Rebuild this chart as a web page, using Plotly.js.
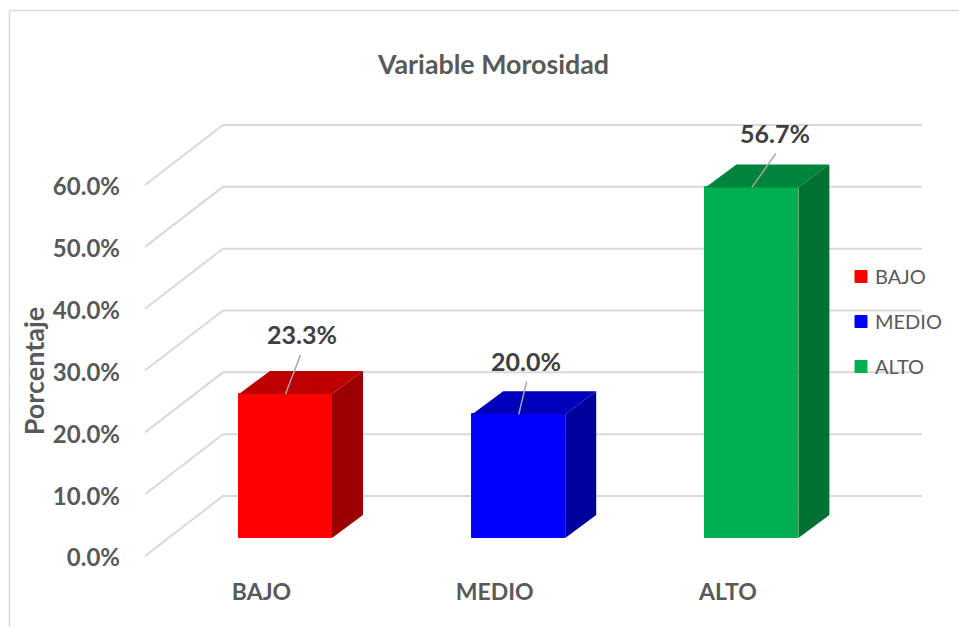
<!DOCTYPE html>
<html>
<head>
<meta charset="utf-8">
<script src="https://cdn.plot.ly/plotly-3.0.1.min.js"></script>
<style>html,body{margin:0;padding:0;background:#fff}#chart{width:959px;height:627px}</style>
</head>
<body>
<div id="chart"></div>
<script>
const categories = ["BAJO", "MEDIO", "ALTO"];
const values = [23.3, 20.0, 56.7];
const tickValues = [0, 10, 20, 30, 40, 50, 60];
const frontColors = ["#FF0000", "#0000FF", "#00B050"];
const topColors = ["#BC0000", "#0000BC", "#00843C"];
const sideColors = ["#9C0000", "#00009C", "#007033"];
const labelShiftX = [16, 7, 23];
const labelShiftY = [60, 53, 54];
const leaderDX = [15, 8, 24];
const leaderDY = [39, 33, 34];

const W = 959, H = 627;
const plot = {l: 125, r: 945, t: 115, b: 627};
const pxPerPct = 6.183, pxPerCat = 233.2;
const zeroPx = 556, tick0Px = 261.5;
const toCat = p => p / pxPerCat, toPct = p => p / pxPerPct;

const xRange = [(plot.l - tick0Px) / pxPerCat, (plot.r - tick0Px) / pxPerCat];
const yRange = [(zeroPx - plot.b) / pxPerPct, (zeroPx - plot.t) / pxPerPct];

const barOffset = toCat(24);     // bars sit right of the tick label
const barBase = toPct(18);       // front plane of the bars above the axis zero
const barWidth = toCat(93);
const depthX = toCat(31), depthY = toPct(23);
const wallX = toCat(78), wallY = toPct(60);
const sideStart = toCat(145 - tick0Px), gridEnd = toCat(922 - tick0Px);

const traces = [];
categories.forEach((c, i) => {
  const cx = i + barOffset, l = cx - barWidth / 2, r = cx + barWidth / 2;
  const top = barBase + values[i];
  traces.push({type: "bar", name: c, x: [cx], y: [values[i]], base: [barBase], width: [barWidth],
    marker: {color: frontColors[i], line: {color: frontColors[i], width: 1}},
    legendgroup: c, hoverinfo: "name+y"});
  traces.push({type: "scatter", mode: "lines", x: [l, l + depthX, r + depthX, r, l],
    y: [top, top + depthY, top + depthY, top, top], fill: "toself", fillcolor: topColors[i],
    line: {width: 0}, showlegend: false, hoverinfo: "skip"});
  traces.push({type: "scatter", mode: "lines", x: [r, r + depthX, r + depthX, r, r],
    y: [top, top + depthY, barBase + depthY, barBase, top], fill: "toself", fillcolor: sideColors[i],
    line: {width: 0}, showlegend: false, hoverinfo: "skip"});
  traces.push({type: "scatter", mode: "lines", x: [cx, cx + toCat(leaderDX[i])],
    y: [top, top + toPct(leaderDY[i])], line: {color: "#A6A6A6", width: 1.5},
    showlegend: false, hoverinfo: "skip"});
});

const gridShapes = [];
tickValues.forEach(t => {
  gridShapes.push({type: "path", layer: "below", xref: "x", yref: "y",
    path: `M${sideStart},${t} L${sideStart + wallX},${t + wallY} L${gridEnd},${t + wallY}`,
    line: {color: "#D9D9D9", width: 2}});
});
const fx = p => (p - plot.l) / (plot.r - plot.l);
const fy = p => (plot.b - p) / (plot.b - plot.t);
const frameShapes = [
  {type: "line", xref: "paper", yref: "paper", x0: fx(9.5), x1: fx(9.5), y0: fy(627), y1: fy(10.5), line: {color: "#D9D9D9", width: 1.5}},
  {type: "line", xref: "paper", yref: "paper", x0: fx(9.5), x1: fx(959), y0: fy(10.5), y1: fy(10.5), line: {color: "#D9D9D9", width: 1.5}}
];

const annotations = categories.map((c, i) => ({
  x: i + barOffset, y: barBase + values[i], xref: "x", yref: "y",
  text: values[i].toFixed(1) + "%", showarrow: false,
  xshift: labelShiftX[i], yshift: labelShiftY[i], xanchor: "center", yanchor: "middle",
  font: {family: "Lato, sans-serif", size: 25, color: "#404040", weight: 700}
}));

const layout = {
  width: W, height: H,
  margin: {l: plot.l, r: W - plot.r, t: plot.t, b: H - plot.b, pad: 0},
  paper_bgcolor: "#fff", plot_bgcolor: "rgba(0,0,0,0)",
  title: {text: "Variable Morosidad", x: 493.5 / W, xref: "container", xanchor: "center",
    y: 1 - 65 / H, yref: "container", yanchor: "middle",
    font: {family: "Lato, sans-serif", size: 26.8, color: "#595959", weight: 700}},
  xaxis: {range: xRange, tickmode: "array", tickvals: categories.map((c, i) => i), ticktext: categories,
    showgrid: false, zeroline: false, showline: false, ticks: "", ticklabelposition: "inside",
    ticklabelstandoff: 19,
    tickfont: {family: "Lato, sans-serif", size: 23, color: "#595959", weight: 700}},
  yaxis: {range: yRange, tickmode: "array", tickvals: tickValues,
    ticktext: tickValues.map(t => t.toFixed(1) + "%"), ticklabelstandoff: 4, ticklabelshift: 2,
    showgrid: false, zeroline: false, showline: false, ticks: "",
    tickfont: {family: "Lato, sans-serif", size: 24, color: "#595959", weight: 700},
    title: {text: "Porcentaje", standoff: 0, font: {family: "Lato, sans-serif", size: 27, color: "#595959", weight: 700}}},
  showlegend: true,
  legend: {x: fx(841), xanchor: "left", y: fy(257), yanchor: "top", bgcolor: "rgba(0,0,0,0)",
    tracegroupgap: 16, traceorder: "grouped", itemclick: false, itemdoubleclick: false,
    font: {family: "Lato, sans-serif", size: 20, color: "#595959"}},
  shapes: gridShapes.concat(frameShapes),
  annotations: annotations,
  bargap: 0
};
Plotly.newPlot("chart", traces, layout, {displayModeBar: false, responsive: false}).then(() => {
  document.querySelectorAll("#chart .legend .legendtext").forEach(t => {
    t.setAttribute("x", 34);
  });
});
</script>
</body>
</html>
